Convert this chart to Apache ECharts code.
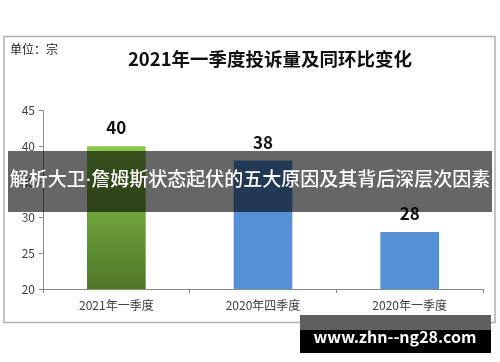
<!DOCTYPE html>
<html><head><meta charset="utf-8">
<script src="https://cdn.jsdelivr.net/npm/echarts@6/dist/echarts.min.js"></script>
<style>html,body{margin:0;padding:0;background:#fff}#c{width:500px;height:362px}</style>
</head><body><div id="c"></div>
<script>
const categories = ['2021年一季度', '2020年四季度', '2020年一季度'];
const values = [40, 38, 28];
const yTicks = [20, 25, 30, 35, 40, 45];
const titleText = '2021年一季度投诉量及同环比变化';
const unitText = '单位：宗';
const bannerText = '解析大卫·詹姆斯状态起伏的五大原因及其背后深层次因素';
const watermarkText = 'www.zhn--ng28.com';

const F = '"Noto Sans CJK SC", "Noto Sans", sans-serif';
const chart = echarts.init(document.getElementById('c'), null, {renderer: 'canvas'});
const green = new echarts.graphic.LinearGradient(0, 0, 0, 1, [
  {offset: 0, color: '#8dc94b'}, {offset: 1, color: '#4e7628'}]);
chart.setOption({
  animation: false,
  backgroundColor: '#fff',
  title: {
    text: titleText, left: 265, top: 45, textAlign: 'center',
    textStyle: {fontFamily: F, fontSize: 18.5, fontWeight: 'bold', color: '#111'}
  },
  grid: {left: 43, right: 17, top: 110.7, bottom: 73},
  xAxis: {
    type: 'category', data: categories,
    axisLine: {lineStyle: {color: '#8c8c8c', width: 1}},
    axisTick: {show: true, length: 4, lineStyle: {color: '#8c8c8c'}},
    axisLabel: {fontFamily: F, fontSize: 12, color: '#404040', margin: 10}
  },
  yAxis: {
    type: 'value', min: yTicks[0], max: yTicks[yTicks.length - 1], interval: 5,
    axisLine: {show: true, lineStyle: {color: '#8c8c8c', width: 1}},
    axisTick: {show: true, length: 4, lineStyle: {color: '#8c8c8c'}},
    splitLine: {show: false},
    axisLabel: {fontFamily: F, fontSize: 12, color: '#404040', margin: 8}
  },
  series: [{
    type: 'bar', barWidth: '40%',
    data: values.map((v, i) => ({value: v, itemStyle: {color: i === 0 ? green : '#5590d6'}})),
    label: {show: true, position: 'top', distance: 10, fontFamily: F, fontSize: 17, fontWeight: 'bold', color: '#111'}
  }],
  graphic: [
    {type: 'rect', z: 1, silent: true, shape: {x: 4, y: 36.5, width: 491, height: 286},
     style: {fill: 'none', stroke: '#b0b0b0', lineWidth: 1.5}},
    {type: 'text', z: 10, left: 10, top: 43,
     style: {text: unitText, font: '12px ' + F, fill: '#222'}},
    {type: 'rect', z: 100, shape: {x: 8, y: 151, width: 484, height: 61},
     style: {fill: 'rgba(0,0,0,0.6)'}},
    {type: 'text', z: 101, x: 250, y: 181.5,
     style: {text: bannerText, font: '500 19px Roboto, ' + F, fill: '#fff', align: 'center', verticalAlign: 'middle'}},
    {type: 'rect', z: 100, shape: {x: 300, y: 315, width: 191, height: 15},
     style: {fill: '#5f5f5f'}},
    {type: 'rect', z: 100, shape: {x: 300, y: 330, width: 191, height: 23},
     style: {fill: '#000'}},
    {type: 'text', z: 101, x: 395, y: 336.5,
     style: {text: watermarkText, font: 'bold 16px ' + F, fill: '#fff', align: 'center', verticalAlign: 'middle'}}
  ]
});
</script></body></html>
